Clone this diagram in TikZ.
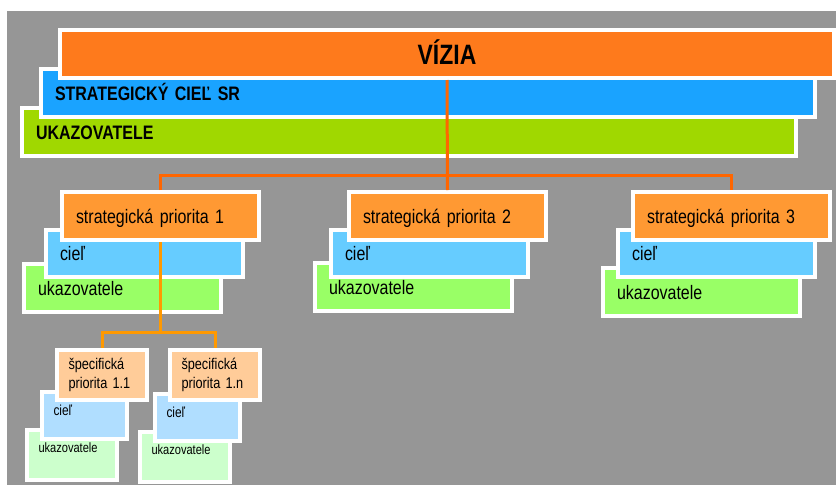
\documentclass[tikz,border=0pt]{standalone}
\usepackage{fontspec}
\setmainfont{Liberation Sans}[FakeStretch=0.82, WordSpace=0.8]
\usetikzlibrary{calc,positioning}
\definecolor{cBack}{RGB}{150,150,150}
\definecolor{cVizia}{RGB}{254,122,28}
\definecolor{cGoalSR}{RGB}{26,163,255}
\definecolor{cIndSR}{RGB}{160,216,0}
\definecolor{cPrio}{RGB}{255,153,51}
\definecolor{cGoal}{RGB}{102,204,255}
\definecolor{cInd}{RGB}{153,255,102}
\definecolor{cSpec}{RGB}{255,204,153}
\definecolor{cGoalS}{RGB}{176,222,255}
\definecolor{cIndS}{RGB}{204,255,204}
\definecolor{cLineA}{RGB}{255,102,0}
\definecolor{cLineB}{RGB}{255,153,0}

\begin{document}
\begin{tikzpicture}[x=1pt, y=-1pt,
    box/.style={draw=white, line width=4pt, anchor=north west, inner xsep=14pt, inner ysep=0pt, align=left},
    topbox/.style={box, text width=746pt, minimum height=48pt, text height=14pt, text depth=0pt, font=\bfseries\fontsize{19.5}{22}\selectfont},
    priobox/.style={box, text width=169pt, minimum height=48pt, text height=14pt, text depth=0pt, font=\fontsize{19.5}{22}\selectfont},
    smallbox/.style={box, inner xsep=11.5pt, text width=67pt, minimum height=50pt},
    link/.style={line width=3pt, cLineA},
    sublink/.style={line width=3pt, cLineB}]
        \useasboundingbox (0,0) rectangle (836,485);
        \fill[cBack] (7,11) rectangle (836,485);
        \node[topbox, fill=cIndSR] (nIndSR) at (20,106) {UKAZOVATELE};
        \node[topbox, fill=cGoalSR] (nGoalSR) at (39,67) {STRATEGICKÝ CIEĽ SR};
        \node[topbox, fill=cVizia, align=center, text height=20pt, font=\bfseries\fontsize{28}{30}\selectfont] (nVizia) at (58,28) {VÍZIA};
        \foreach \i/\ox/\bx/\gx/\gy in
        {1/60/44/22/262,
            2/347/329/313/261,
            3/631/616/601/266
        }
        {
            \node[priobox, fill=cInd] (nInd\i) at (\gx,\gy) {ukazovatele};
            \node[priobox, fill=cGoal, minimum height=47pt] (nGoal\i) at (\bx,228) {cieľ};
            \node[priobox, fill=cPrio] (nPrio\i) at (\ox,190) {strategická priorita \i};
        };
        \foreach \j/\t/\sx/\cx/\ux/\dy in
        {1/1.1/55/40/25/0,
            n/1.n/168/153/138/2
        }
        {
            \node[smallbox, fill=cIndS, text height=10pt, text depth=16pt, font=\fontsize{13.5}{16}\selectfont] (nIndS\j) at (\ux,428+\dy) {ukazovatele};
            \node[smallbox, fill=cGoalS, text width=62pt, minimum height=47pt, text height=10.5pt, text depth=10.5pt, font=\fontsize{14.5}{16}\selectfont] (nGoalS\j) at (\cx,390+\dy) {cieľ};
            \node[smallbox, fill=cSpec, font=\fontsize{15.5}{19}\selectfont] (nSpec\j) at (\sx,348) {špecifická\\priorita \t};
        };
        \coordinate (cSplit) at (447.5,175);
        \coordinate (cSubSplit) at (160.5,332);
        \draw[link] (nVizia.south) -- (nPrio2.north);
        \draw[link] (nPrio1.north) |- (cSplit) -| (nPrio3.north);
        \draw[sublink] (nPrio1.south) -- (cSubSplit);
        \draw[sublink] (nSpec1.north) |- (cSubSplit) -| (nSpecn.north);
\end{tikzpicture}
\end{document}
